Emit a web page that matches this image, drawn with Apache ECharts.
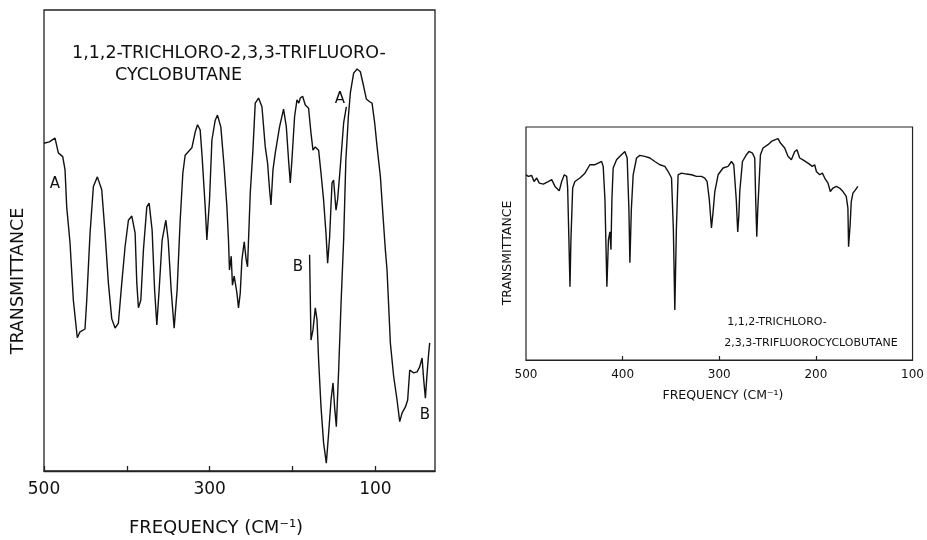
<!DOCTYPE html>
<html>
<head>
<meta charset="utf-8">
<script src="https://cdn.jsdelivr.net/npm/echarts@6/dist/echarts.min.js"></script>
<style>
  html, body { margin: 0; padding: 0; background: #fff; }
  #chart { width: 927px; height: 540px; }
</style>
</head>
<body>
<div id="chart"></div>
<script>
// Far-infrared spectrum, trace A (frequency in cm-1, transmittance in % of frame)
const leftFreqA = [500, 493.6, 486.7, 482.7, 477.4, 474.6, 472.6, 468.6, 464.6, 462.5, 459.8, 456.5, 450.5, 448.4,
  444.4, 440.4, 435.6, 430.3, 426.3, 422.3, 418.2, 414.2, 410.2, 406.1, 402.1, 398.1, 394.0, 390.0, 388.0, 386.0,
  383.1, 380.0, 375.9, 373.1, 369.5, 366.5, 363.8, 361.0, 357.4, 352.9, 350.1, 346.5, 342.9, 339.3, 335.6, 332.4,
  329.6, 321.5, 317.5, 314.7, 311.5, 309.1, 305.4, 303.4, 300.2, 297.3, 293.3, 290.6, 286.5, 282.5, 279.2, 277.3,
  276.1, 274.0, 272.5, 270.4, 267.1, 265.2, 263.1, 261.1, 258.3, 255.9, 254.3, 251.0, 247.8, 245.0, 241.0, 236.9,
  232.9, 230.1, 227.7, 226.0, 223.6, 220.8, 218.8, 215.6, 210.8, 207.5, 204.8, 202.7, 200.7, 197.5, 194.6, 192.4,
  190.6, 187.8, 184.6, 180.6, 177.7, 175.3, 172.5, 168.5, 165.6, 162.5, 159.6, 157.6, 155.2, 152.3, 150.4, 147.5,
  145.6, 142.3, 138.3, 135.0];
const leftTransA = [71.1, 71.4, 72.2, 69.0, 68.2, 65.3, 57.3, 49.5, 37.1, 33.5, 28.9, 30.2, 30.8, 37.1,
  51.6, 61.7, 63.8, 61.0, 51.6, 40.8, 33.0, 31.0, 32.1, 40.8, 48.7, 54.4, 55.3, 51.6, 40.8, 35.4,
  37.1, 47.9, 57.3, 58.1, 52.3, 39.3, 31.7, 39.3, 50.1, 54.4, 50.1, 39.3, 31.0, 39.3, 54.4, 64.6,
  68.5, 70.1, 73.5, 75.1, 74.0, 68.1, 57.3, 50.1, 58.8, 71.8, 76.1, 77.2, 74.6, 65.9, 57.3, 50.1,
  43.6, 46.6, 40.3, 42.3, 38.6, 35.4, 38.6, 45.8, 49.7, 45.8, 44.3, 60.3, 69.6, 79.8, 80.9, 79.0,
  70.3, 66.8, 61.0, 57.7, 65.3, 69.0, 69.0, 74.7, 78.5, 74.7, 67.5, 62.5, 67.5, 76.9, 80.5, 79.8,
  80.9, 81.3, 79.4, 78.7, 73.3, 69.6, 70.3, 69.6, 64.6, 58.8, 51.6, 45.1, 50.8, 62.5, 63.1, 56.6,
  58.8, 66.0, 75.5, 79.0];

// Trace B
const leftFreqB = [179.4, 178.5, 177.7, 175.3, 172.5, 170.4, 168.5, 165.6, 162.5, 159.2, 156.4, 153.5, 151.1,
  149.2, 147.1, 144.3, 141.4, 138.3, 135.6, 132.6, 130.2, 126.2, 122.1, 118.1, 114.1, 110.9, 106.9, 104.0,
  100.8, 97.9, 93.9, 90.7, 87.9, 85.9, 81.9, 77.9, 73.8, 70.6, 67.7, 63.7, 61.0, 58.5, 53.7, 49.6, 46.5,
  43.6, 41.6, 39.6, 37.5, 35.6, 34.4];
const leftTransB = [46.9, 37.1, 28.4, 30.6, 35.4, 32.8, 24.1, 13.9, 6.1, 1.7, 8.2, 15.4, 19.1,
  13.9, 9.6, 21.9, 36.4, 50.1, 67.5, 76.8, 82.0, 86.3, 87.2, 86.6, 83.4, 80.7, 80.1, 79.8,
  75.5, 70.3, 63.8, 55.2, 47.9, 43.6, 27.8, 20.5, 15.4, 10.7, 12.6, 13.9, 15.4, 21.9, 21.3, 21.5, 22.6,
  24.5, 19.7, 15.8, 21.3, 25.6, 27.8];

// Infrared spectrum, 500-155 cm-1
const rightFreq = [500, 497.6, 494.1, 491.7, 488.9, 486.3, 482.1, 477.0, 473.4, 470.0, 465.6, 463.1, 460.4, 457.9,
  456.9, 455.6, 454.5, 453.5, 451.7, 449.4, 444.2, 439.0, 433.9, 428.7, 425.3, 421.8, 420.1, 418.3, 416.3, 414.7,
  413.2, 412.1, 411.1, 409.8, 406.3, 402.8, 397.7, 395.3, 393.5, 392.5, 391.0, 389.1, 385.6, 382.2, 377.0, 371.8,
  366.7, 361.5, 356.3, 352.9, 349.4, 347.5, 346.0, 344.4, 342.6, 339.1, 333.9, 328.7, 323.6, 318.4, 315.0, 312.6,
  310.3, 308.1, 306.7, 304.6, 301.2, 296.1, 290.9, 287.4, 285.0, 282.4, 280.9, 279.7, 278.8, 276.0, 271.9, 269.2,
  265.7, 263.3, 262.3, 261.2, 260.2, 258.9, 257.4, 254.7, 249.6, 246.0, 242.6, 239.2, 236.7, 232.3, 228.9, 225.4,
  221.9, 219.6, 216.8, 213.4, 208.2, 203.7, 201.3, 199.5, 196.1, 193.3, 190.9, 187.5, 185.1, 182.3, 178.9, 175.5,
  172.0, 168.6, 166.9, 166.2, 164.6, 163.4, 161.7, 158.9, 156.6];
const rightTrans = [79.5, 78.8, 79.2, 76.6, 78.1, 75.9, 75.5, 76.6, 77.4, 74.5, 72.6, 76.6, 79.5, 78.8,
  73.9, 51.6, 31.4, 51.6, 73.8, 76.6, 78.1, 80.2, 83.8, 83.8, 84.5, 85.2, 83.1, 68.8, 31.4, 51.6,
  55.0, 47.3, 68.8, 82.4, 85.9, 87.4, 89.5, 86.7, 64.5, 41.7, 64.5, 79.5, 86.7, 87.8, 87.4, 86.7,
  85.2, 83.8, 83.1, 80.9, 78.1, 55.9, 21.5, 55.9, 79.5, 80.2, 79.8, 79.5, 78.8, 78.8, 78.1, 76.6,
  68.8, 56.7, 62.3, 72.3, 79.5, 82.4, 83.1, 85.2, 83.8, 68.8, 55.0, 62.3, 72.3, 85.2, 88.1, 89.5,
  88.8, 86.7, 68.8, 52.9, 64.5, 75.2, 88.1, 91.0, 92.4, 93.8, 94.5, 95.0, 93.1, 91.0, 87.4, 85.9,
  89.5, 90.2, 86.7, 85.9, 84.5, 83.1, 83.8, 80.9, 79.5, 80.2, 78.1, 75.9, 72.3, 73.8, 74.5, 73.8,
  72.3, 70.2, 65.2, 48.6, 58.0, 68.0, 71.6, 73.1, 74.5];

const leftTickValues = [500, 400, 300, 200, 100];
const leftLabelValues = [500, 300, 100];
const rightTickValues = [400, 300, 200];
const rightLabelValues = [500, 400, 300, 200, 100];

const FONT = '"DejaVu Sans", sans-serif';
const INK = '#111';

function pairs(xs, ys) { return xs.map((x, i) => [x, ys[i]]); }

function textItem(text, x, y, size, opts) {
  opts = opts || {};
  return {
    type: 'text', x: x, y: y, rotation: opts.rotation || 0, silent: true,
    style: {
      text: text, fill: INK, font: size + 'px ' + FONT,
      textAlign: opts.align || 'center', textVerticalAlign: 'middle'
    }
  };
}

const chart = echarts.init(document.getElementById('chart'), null, { renderer: 'canvas' });

const lineSeries = (name, xi, data) => ({
  name: name, type: 'line', xAxisIndex: xi, yAxisIndex: xi, data: data,
  showSymbol: false, symbol: 'none', smooth: false, animation: false,
  lineStyle: { color: INK, width: 1.4 }
});

chart.setOption({
  backgroundColor: '#fff',
  animation: false,
  grid: [
    { left: 44, top: 10, width: 391, height: 461, show: true, borderColor: '#222', borderWidth: 1.3, backgroundColor: 'transparent' },
    { left: 526, top: 127, width: 387, height: 233, show: true, borderColor: '#222', borderWidth: 1.2, backgroundColor: 'transparent' }
  ],
  xAxis: [
    {
      type: 'value', gridIndex: 0, inverse: true, min: 28, max: 500,
      axisLine: { show: true, lineStyle: { color: '#222', width: 1.3 } },
      axisTick: { show: true, inside: true, length: 5, customValues: leftTickValues, lineStyle: { color: '#222', width: 1.3 } },
      axisLabel: { show: true, customValues: leftLabelValues, margin: 10, color: INK, fontSize: 17, fontFamily: FONT },
      splitLine: { show: false }
    },
    {
      type: 'value', gridIndex: 1, inverse: true, min: 100, max: 500, interval: 100,
      axisLine: { show: true, lineStyle: { color: '#222', width: 1.2 } },
      axisTick: { show: true, inside: true, length: 4, customValues: rightTickValues, lineStyle: { color: '#222', width: 1.2 } },
      axisLabel: { show: true, customValues: rightLabelValues, margin: 9, color: INK, fontSize: 12, fontFamily: FONT },
      splitLine: { show: false }
    }
  ],
  yAxis: [
    { type: 'value', gridIndex: 0, min: 0, max: 100, axisLine: { show: false }, axisTick: { show: false }, axisLabel: { show: false }, splitLine: { show: false } },
    { type: 'value', gridIndex: 1, min: 0, max: 100, axisLine: { show: false }, axisTick: { show: false }, axisLabel: { show: false }, splitLine: { show: false } }
  ],
  series: [
    lineSeries('A', 0, pairs(leftFreqA, leftTransA)),
    lineSeries('B', 0, pairs(leftFreqB, leftTransB)),
    lineSeries('spectrum', 1, pairs(rightFreq, rightTrans))
  ],
  graphic: [
    // left panel
    textItem('1,1,2-TRICHLORO-2,3,3-TRIFLUORO-', 72, 53, 17.5, { align: 'left' }),
    textItem('CYCLOBUTANE', 115, 75, 17.5, { align: 'left' }),
    textItem('A', 55, 184, 15),
    textItem('A', 340, 99, 15),
    textItem('B', 298, 267, 15),
    textItem('B', 425, 415, 15),
    textItem('TRANSMITTANCE', 18, 281, 17.5, { rotation: Math.PI / 2 }),
    textItem('FREQUENCY (CM\u207B\u00B9)', 216, 528, 18),
    // right panel
    textItem('1,1,2-TRICHLORO-', 777, 322, 11),
    textItem('2,3,3-TRIFLUOROCYCLOBUTANE', 811, 343, 11),
    textItem('TRANSMITTANCE', 508, 253, 12.5, { rotation: Math.PI / 2 }),
    textItem('FREQUENCY (CM\u207B\u00B9)', 723, 396, 12.5)
  ]
});
</script>
</body>
</html>
